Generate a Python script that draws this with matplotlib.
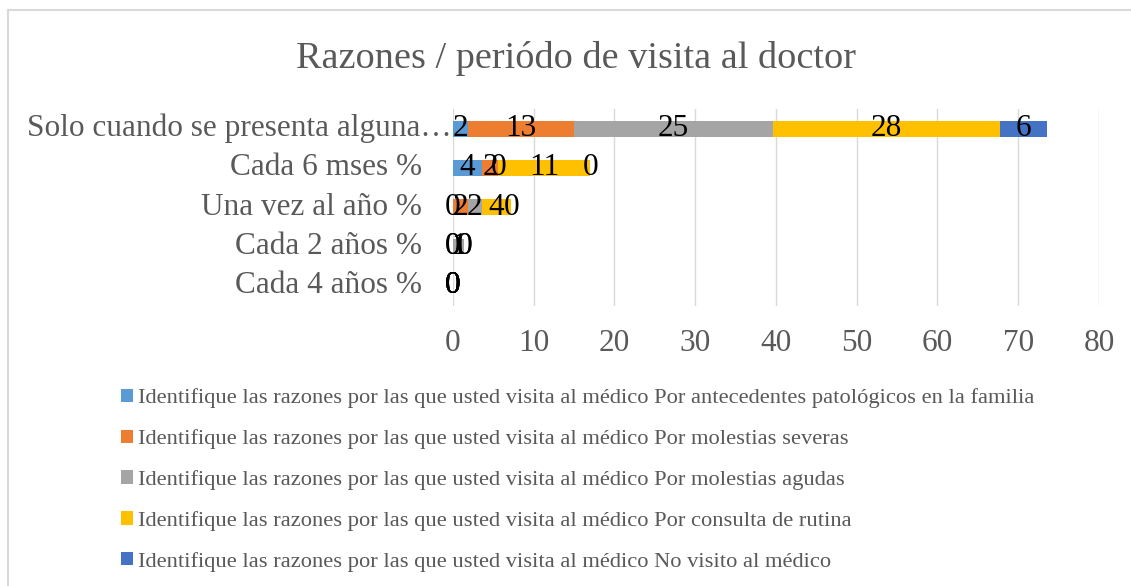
import numpy as np
import matplotlib
matplotlib.use("Agg")
import matplotlib.pyplot as plt
from matplotlib.patches import Patch
from matplotlib.lines import Line2D

plt.rcParams['font.family'] = ['Liberation Serif', 'DejaVu Serif']

# Data (% per visit period)
categories = ["Solo cuando se presenta alguna…", "Cada 6 mses %", "Una vez al año %",
              "Cada 2 años %", "Cada 4 años %"]
series_names = [
    "Identifique las razones por las que usted visita al médico Por antecedentes patológicos en la familia",
    "Identifique las razones por las que usted visita al médico Por molestias severas",
    "Identifique las razones por las que usted visita al médico Por molestias agudas",
    "Identifique las razones por las que usted visita al médico Por consulta de rutina",
    "Identifique las razones por las que usted visita al médico No visito al médico",
]
antecedentes = [1.9, 3.6, 0.0, 0.0, 0.0]
severas = [13.1, 2.0, 1.8, 0.0, 0.0]
agudas = [24.6, 0.0, 1.8, 1.4, 0.0]
rutina = [28.2, 11.4, 3.6, 0.0, 0.0]
no_visito = [5.7, 0.0, 0.0, 0.0, 0.0]
series_values = [antecedentes, severas, agudas, rutina, no_visito]
colors = ["#5B9BD5", "#ED7D31", "#A5A5A5", "#FFC000", "#4472C4"]
x_ticks = [0, 10, 20, 30, 40, 50, 60, 70, 80]

text_color = "#595959"
grid_color = "#D9D9D9"

fig = plt.figure(figsize=(11.31, 5.86), dpi=100)
ax = fig.add_axes([0.4005, 0.4785, 0.5712, 0.3355])

y = np.arange(len(categories))
left = np.zeros(len(categories))
for vals, color in zip(series_values, colors):
    vals = np.array(vals)
    bars = ax.barh(y, vals, left=left, height=0.4, color=color, zorder=2)
    ax.bar_label(bars, labels=[f"{v:.0f}" for v in vals], label_type="center",
                 fontsize=22.5, color="black", zorder=3)
    left += vals

ax.set_xlim(0, 80)
ax.set_ylim(len(categories) - 0.5, -0.5)
ax.set_xticks(x_ticks)
ax.set_xticklabels([str(t) for t in x_ticks])
ax.tick_params(axis="x", length=0, pad=17, labelsize=22.5, labelcolor=text_color)
ax.set_yticks([])
ax.grid(axis="x", color=grid_color, linewidth=1, zorder=0)
for sp in ax.spines.values():
    sp.set_visible(False)

# category labels (the long first one runs up to the axis, like the original)
for i, cat in enumerate(categories):
    xpos = -0.0015 if i == 0 else -0.048
    ax.text(xpos, i, cat, transform=ax.get_yaxis_transform(), ha="right",
            va="center", fontsize=22.5, color=text_color)

fig.text(0.509, 0.901, "Razones / periódo de visita al doctor", ha="center",
         va="center", fontsize=27.5, color=text_color)

handles = [Patch(facecolor=c, edgecolor="none") for c in colors]
fig.legend(handles, series_names, loc="upper left", bbox_to_anchor=(0.107, 0.337),
           frameon=False, fontsize=16.2, labelcolor=text_color, handlelength=0.53,
           handleheight=0.53, handletextpad=0.22, labelspacing=0.93, borderpad=0,
           borderaxespad=0)

# chart-area border (only top and left edges fall inside the image)
fig.add_artist(Line2D([0.0071, 0.0071], [0.0, 0.983], transform=fig.transFigure,
                      color=grid_color, linewidth=1.5))
fig.add_artist(Line2D([0.0071, 1.0], [0.983, 0.983], transform=fig.transFigure,
                      color=grid_color, linewidth=1.5))

fig.savefig("out.png", dpi=100, facecolor="white")
